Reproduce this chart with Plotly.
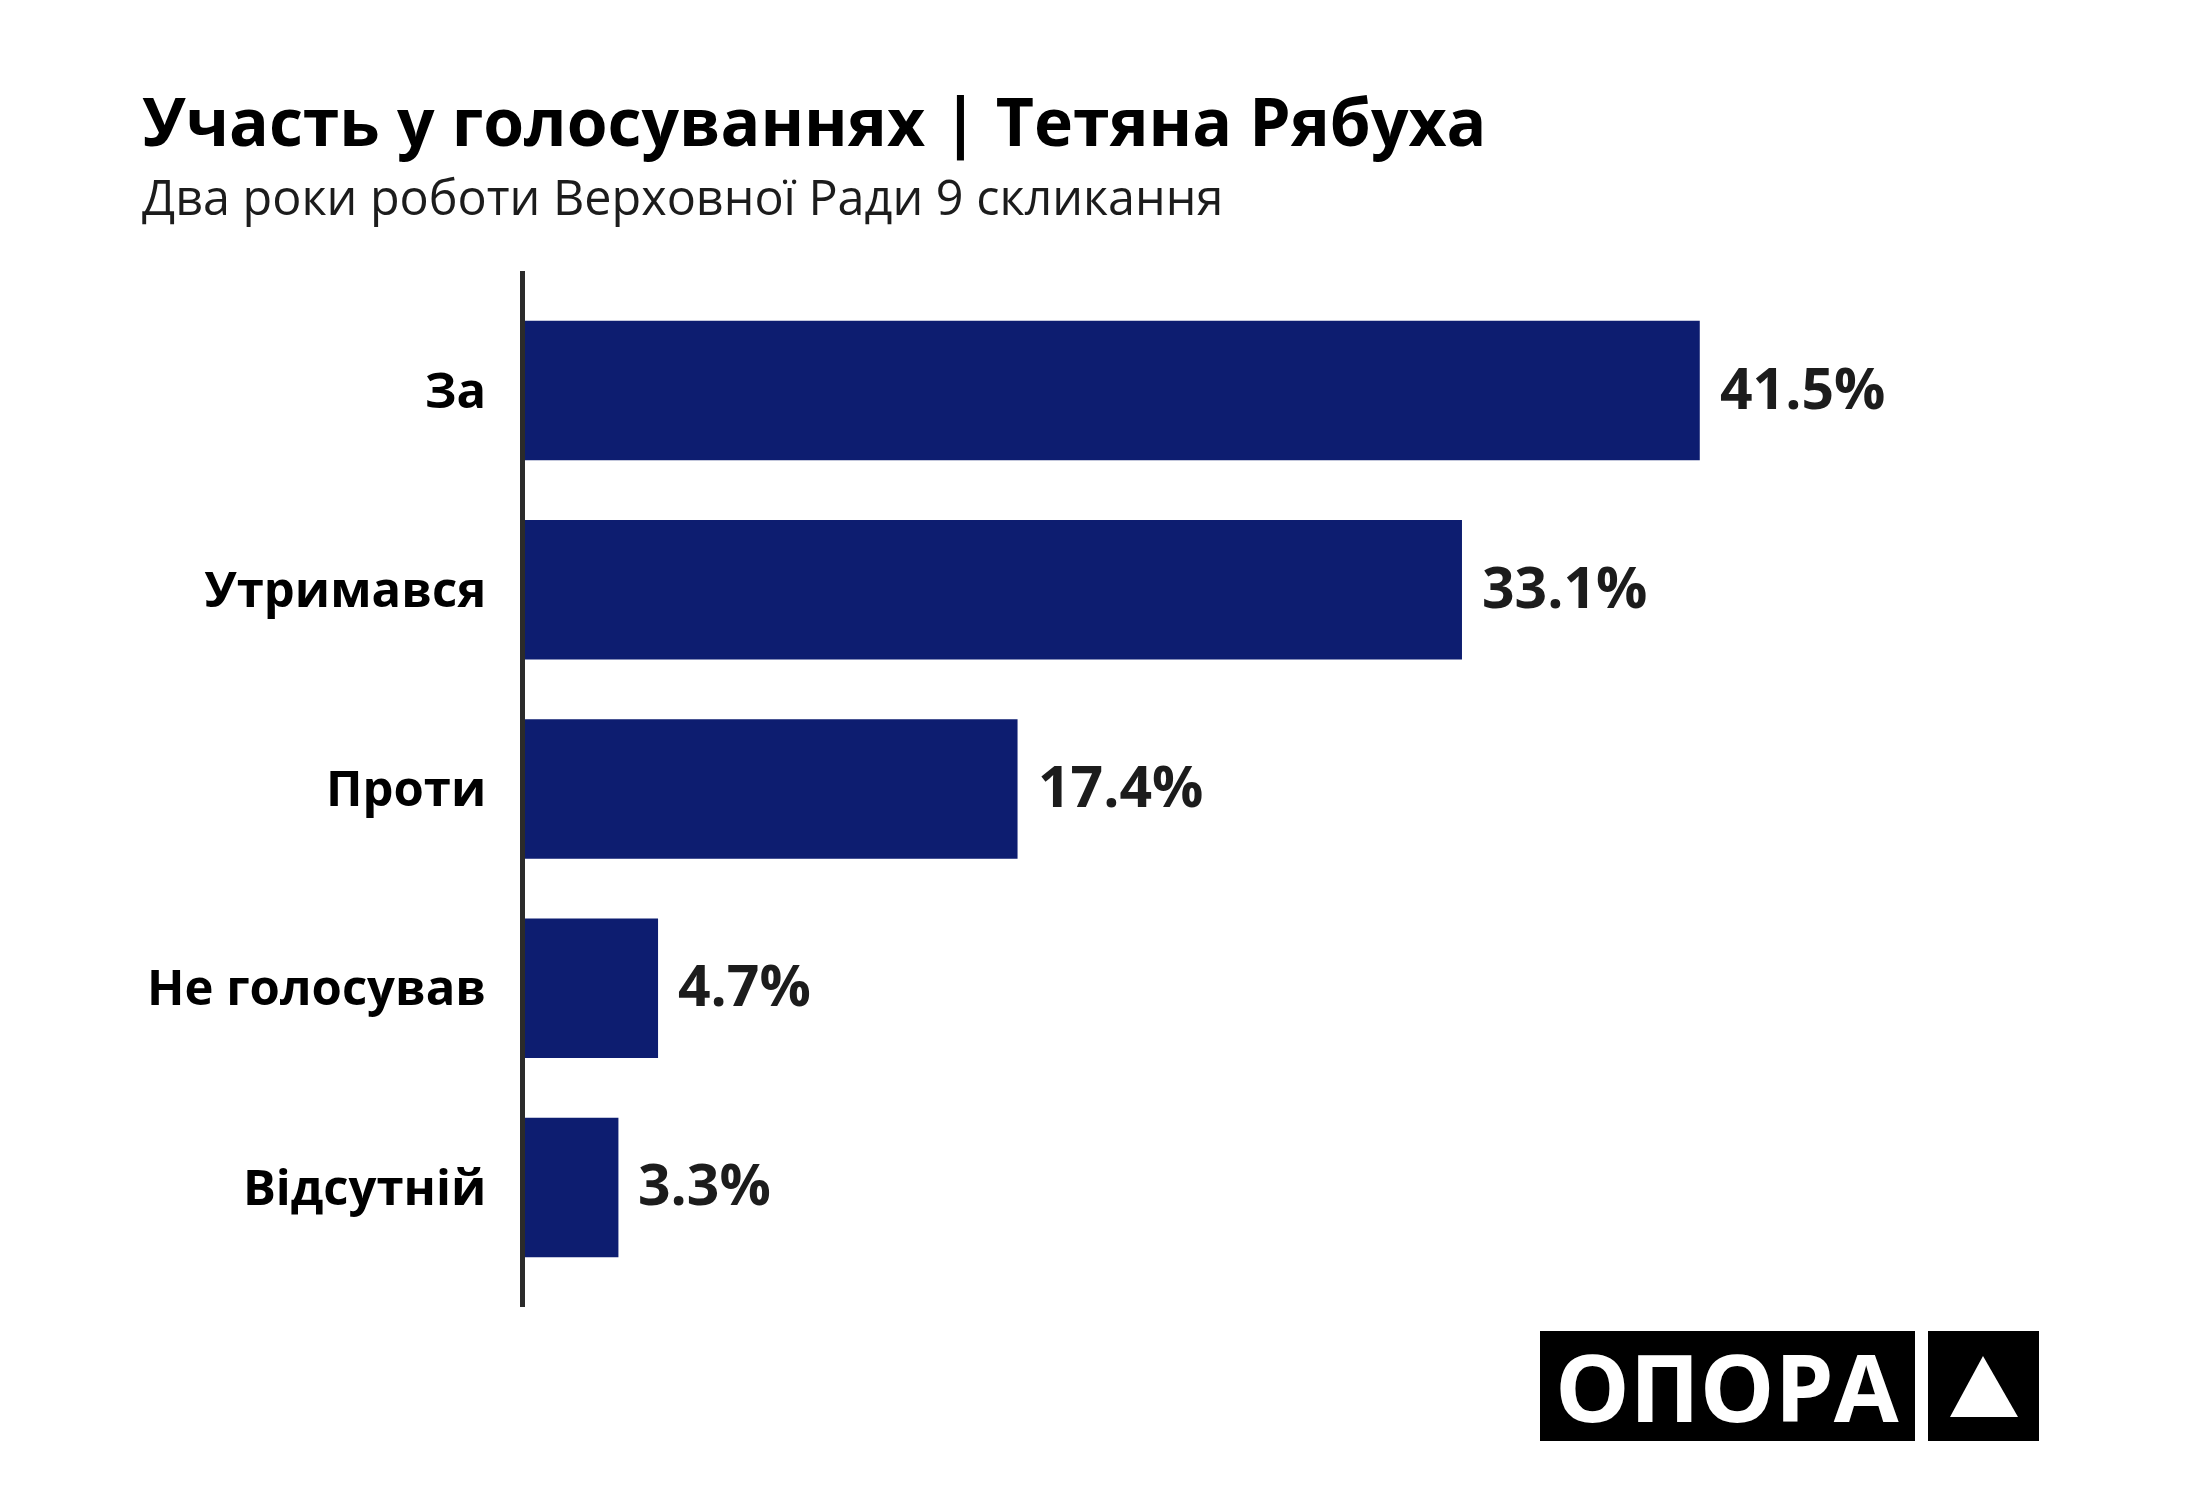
import plotly.graph_objects as go

# vote shares, top to bottom
categories = ["За", "Утримався", "Проти", "Не голосував", "Відсутній"]
shares = [41.5, 33.1, 17.4, 4.7, 3.3]
share_labels = ["41.5%", "33.1%", "17.4%", "4.7%", "3.3%"]

TITLE = "Участь у голосуваннях | Тетяна Рябуха"
SUBTITLE = "Два роки роботи Верховної Ради 9 скликання"
BAR_COLOR = "#0d1d70"
FONT = "Open Sans"

W, H = 2200, 1500
OFF = 8  # page body margin
L, T = 525 - OFF, 271 - OFF
PW, PH = 1472, 1036
R, B = W - L - PW, H - T - PH


def px(x, y):
    """page pixels -> paper coords"""
    return (x - OFF - L) / PW, (T + PH - (y - OFF)) / PH


fig = go.Figure(
    go.Bar(
        x=shares,
        y=categories,
        orientation="h",
        width=0.7,
        marker=dict(color=BAR_COLOR, line=dict(width=0)),
        hoverinfo="skip",
    )
)

annotations = []
for cat, val, lab in zip(categories, shares, share_labels):
    annotations.append(dict(
        x=val, y=cat, xref="x", yref="y", text=f"<b>{lab}</b>",
        showarrow=False, xanchor="left", yanchor="middle", xshift=18, yshift=4,
        font=dict(family=FONT, size=57, color="#1c1c1c"),
    ))

tx, ty = px(140, 120)
annotations.append(dict(
    x=tx, y=ty, xref="paper", yref="paper", text=f"<b>{TITLE}</b>",
    showarrow=False, xanchor="left", yanchor="middle",
    font=dict(family=FONT, size=66, color="#000000"),
))
sx, sy = px(140, 196)
annotations.append(dict(
    x=sx, y=sy, xref="paper", yref="paper", text=SUBTITLE,
    showarrow=False, xanchor="left", yanchor="middle",
    font=dict(family=FONT, size=48.5, color="#1c1c1c"),
))

# logo
bx0, by0 = px(1540, 1331)
bx1, by1 = px(1915, 1441)
cx0, cy0 = px(1928, 1331)
cx1, cy1 = px(2039, 1441)
ax_, ay_ = px(1983, 1356)
lx_, ly_ = px(1950, 1417)
rx_, ry_ = px(2018, 1417)
shapes = [
    dict(type="rect", xref="paper", yref="paper", x0=bx0, y0=by0, x1=bx1, y1=by1,
         fillcolor="#000000", line=dict(width=0), layer="above"),
    dict(type="rect", xref="paper", yref="paper", x0=cx0, y0=cy0, x1=cx1, y1=cy1,
         fillcolor="#000000", line=dict(width=0), layer="above"),
    dict(type="path", xref="paper", yref="paper",
         path=f"M {ax_} {ay_} L {lx_} {ly_} L {rx_} {ry_} Z",
         fillcolor="#ffffff", line=dict(width=0), layer="above"),
]
ox, oy = px(1727, 1386)
annotations.append(dict(
    x=ox, y=oy, xref="paper", yref="paper", text="<b>ОПОРА</b>",
    showarrow=False, xanchor="center", yanchor="middle",
    font=dict(family=FONT, size=94, color="#ffffff"),
))

fig.update_layout(
    width=W, height=H,
    margin=dict(l=L, r=R, t=T, b=B, pad=0),
    paper_bgcolor="#ffffff", plot_bgcolor="#ffffff",
    showlegend=False,
    annotations=annotations,
    shapes=shapes,
)
fig.update_xaxes(range=[0, 52], visible=False, showgrid=False, zeroline=False)
fig.update_yaxes(
    range=[4.6, -0.6],
    showgrid=False, zeroline=False,
    showline=True, linecolor="#2b2b2b", linewidth=5,
    ticks="", ticklabelstandoff=24,
    tickfont=dict(family=FONT, size=49, color="#000000", weight=700),
)

fig.write_html("out.html")
